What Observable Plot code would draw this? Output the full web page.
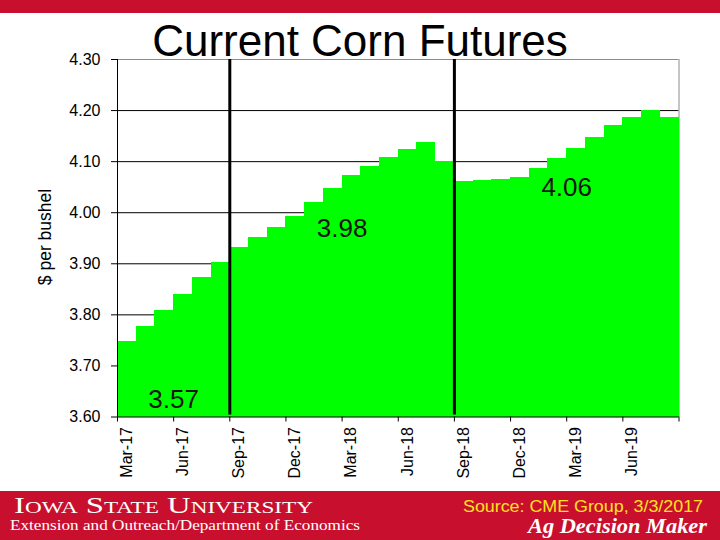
<!DOCTYPE html>
<html>
<head>
<meta charset="utf-8">
<script src="https://cdn.jsdelivr.net/npm/d3@7"></script>
<script src="https://cdn.jsdelivr.net/npm/@observablehq/plot@0.6"></script>
<style>
  body { margin: 0; background: white; }
  #page { position: relative; width: 720px; height: 540px; overflow: hidden; background: white; }
  #topband { position: absolute; left: 0; top: 0; width: 720px; height: 13px; background: #C8102E; }
  #title { position: absolute; left: 0; top: 19px; width: 720px; text-align: center;
           font-family: "Liberation Sans", Arial, sans-serif; font-size: 44px; line-height: 44px; color: #000; }
  #ylabel { position: absolute; left: 44.5px; top: 237px; width: 0; height: 0; }
  #ylabel span { position: absolute; left: 0; top: 0; transform: translate(-50%, -50%) rotate(-90deg);
           white-space: nowrap; font-family: "Liberation Sans", Arial, sans-serif; font-size: 17.5px; line-height: 18px; color: #000; }
  #chart { position: absolute; left: 0; top: 50px; }
  #footer { position: absolute; left: 0; top: 491px; }
</style>
</head>
<body>
<div id="page">
  <div id="topband"></div>
  <div id="chart"></div>
  <div id="title">Current Corn Futures</div>
  <div id="ylabel"><span id="ylabeltext"></span></div>
  <svg id="footer" width="720" height="49" xmlns="http://www.w3.org/2000/svg">
    <rect width="720" height="49" fill="#C8102E"/>
    <text x="14" y="22" font-family="'Liberation Serif', 'Times New Roman', serif" font-size="24" fill="#fff"
          style="font-variant: small-caps" textLength="299" lengthAdjust="spacingAndGlyphs">Iowa State University</text>
    <text x="10" y="39" font-family="'Liberation Serif', 'Times New Roman', serif" font-size="15" fill="#fff"
          textLength="350" lengthAdjust="spacingAndGlyphs">Extension and Outreach/Department of Economics</text>
    <text x="463" y="21" font-family="'Liberation Sans', Arial, sans-serif" font-size="16" fill="#FFE21F"
          textLength="240" lengthAdjust="spacingAndGlyphs">Source: CME Group, 3/3/2017</text>
    <text x="528" y="42" font-family="'Liberation Serif', 'Times New Roman', serif" font-size="21" font-weight="bold"
          font-style="italic" fill="#fff" textLength="179" lengthAdjust="spacingAndGlyphs">Ag Decision Maker</text>
  </svg>
</div>
<script>
// ---- data ----
const months = ["Mar-17","Apr-17","May-17","Jun-17","Jul-17","Aug-17",
  "Sep-17","Oct-17","Nov-17","Dec-17","Jan-18","Feb-18","Mar-18","Apr-18","May-18","Jun-18","Jul-18","Aug-18",
  "Sep-18","Oct-18","Nov-18","Dec-18","Jan-19","Feb-19","Mar-19","Apr-19","May-19","Jun-19","Jul-19","Aug-19"];
const prices = [3.748, 3.778, 3.809, 3.840, 3.873, 3.903,
  3.932, 3.951, 3.971, 3.993, 4.020, 4.048, 4.072, 4.091, 4.108, 4.123, 4.137, 4.100,
  4.061, 4.063, 4.065, 4.068, 4.087, 4.107, 4.125, 4.147, 4.170, 4.186, 4.201, 4.186];
const tickMonths = ["Mar-17","Jun-17","Sep-17","Dec-17","Mar-18","Jun-18","Sep-18","Dec-18","Mar-19","Jun-19"];
const yTicks = [3.60, 3.70, 3.80, 3.90, 4.00, 4.10, 4.20, 4.30];
const cropYearStarts = ["Sep-17", "Sep-18"];
const periodAverages = [3.57, 3.98, 4.06];
const yLabel = "$ per bushel";

// ---- derived ----
const data = months.map((m, i) => ({i, m, v: prices[i]}));
const yMin = yTicks[0], yMax = yTicks[yTicks.length - 1];
const n = months.length;
const startIdx = cropYearStarts.map(m => months.indexOf(m));
const bounds = [0, ...startIdx, n];
const ann = periodAverages.map((v, k) => ({x: (bounds[k] + bounds[k + 1]) / 2, v, label: v.toFixed(2)}));
const labelIdx = tickMonths.map(m => months.indexOf(m));
const tickBounds = d3.range(0, n + 1, 3);

document.getElementById("ylabeltext").textContent = yLabel;

const chart = Plot.plot({
  width: 720,
  height: 440,
  marginTop: 9,
  marginLeft: 117,
  marginRight: 41.5,
  marginBottom: 73.5,
  x: {domain: [0, n]},
  y: {domain: [yMin, yMax]},
  style: {background: "transparent", fontFamily: "'Liberation Sans', Arial, sans-serif", color: "black"},
  marks: [
    Plot.ruleY(yTicks.slice(1, -1), {stroke: "black", strokeWidth: 1}),
    Plot.ruleY([yMax], {stroke: "#8c8c8c", strokeWidth: 1}),
    Plot.ruleX([n], {stroke: "#8c8c8c", strokeWidth: 1}),
    Plot.rectY(data, {x1: "i", x2: d => d.i + 1, y1: yMin, y2: "v", fill: "#00FF00", shapeRendering: "crispEdges"}),
    Plot.ruleX(startIdx, {stroke: "black", strokeWidth: 3, insetBottom: 2}),
    Plot.ruleX([0], {stroke: "black", strokeWidth: 1}),
    Plot.ruleY([yMin], {stroke: "black", strokeWidth: 1}),
    Plot.text(ann.filter(d => d.v >= yMin), {x: "x", y: "v", text: "label", fontSize: 26, fill: "#151515", dy: 6}),
    Plot.text(ann.filter(d => d.v < yMin), {x: "x", y: () => yMin, text: "label", fontSize: 26, fill: "#151515", dy: -17}),
    Plot.axisY(yTicks, {tickSize: 6, tickPadding: 11, fontSize: 16, tickFormat: d => d.toFixed(2), label: null}),
    Plot.axisX(tickBounds, {tickSize: 5, tickFormat: () => "", label: null}),
    Plot.text(labelIdx.map(i => i + 0.5), {x: d => d, frameAnchor: "bottom", rotate: -90, textAnchor: "end",
      dx: 5, dy: 10, fontSize: 16, fill: "black", text: d => months[Math.floor(d)]})
  ]
});
document.getElementById("chart").appendChild(chart);
</script>
</body>
</html>
